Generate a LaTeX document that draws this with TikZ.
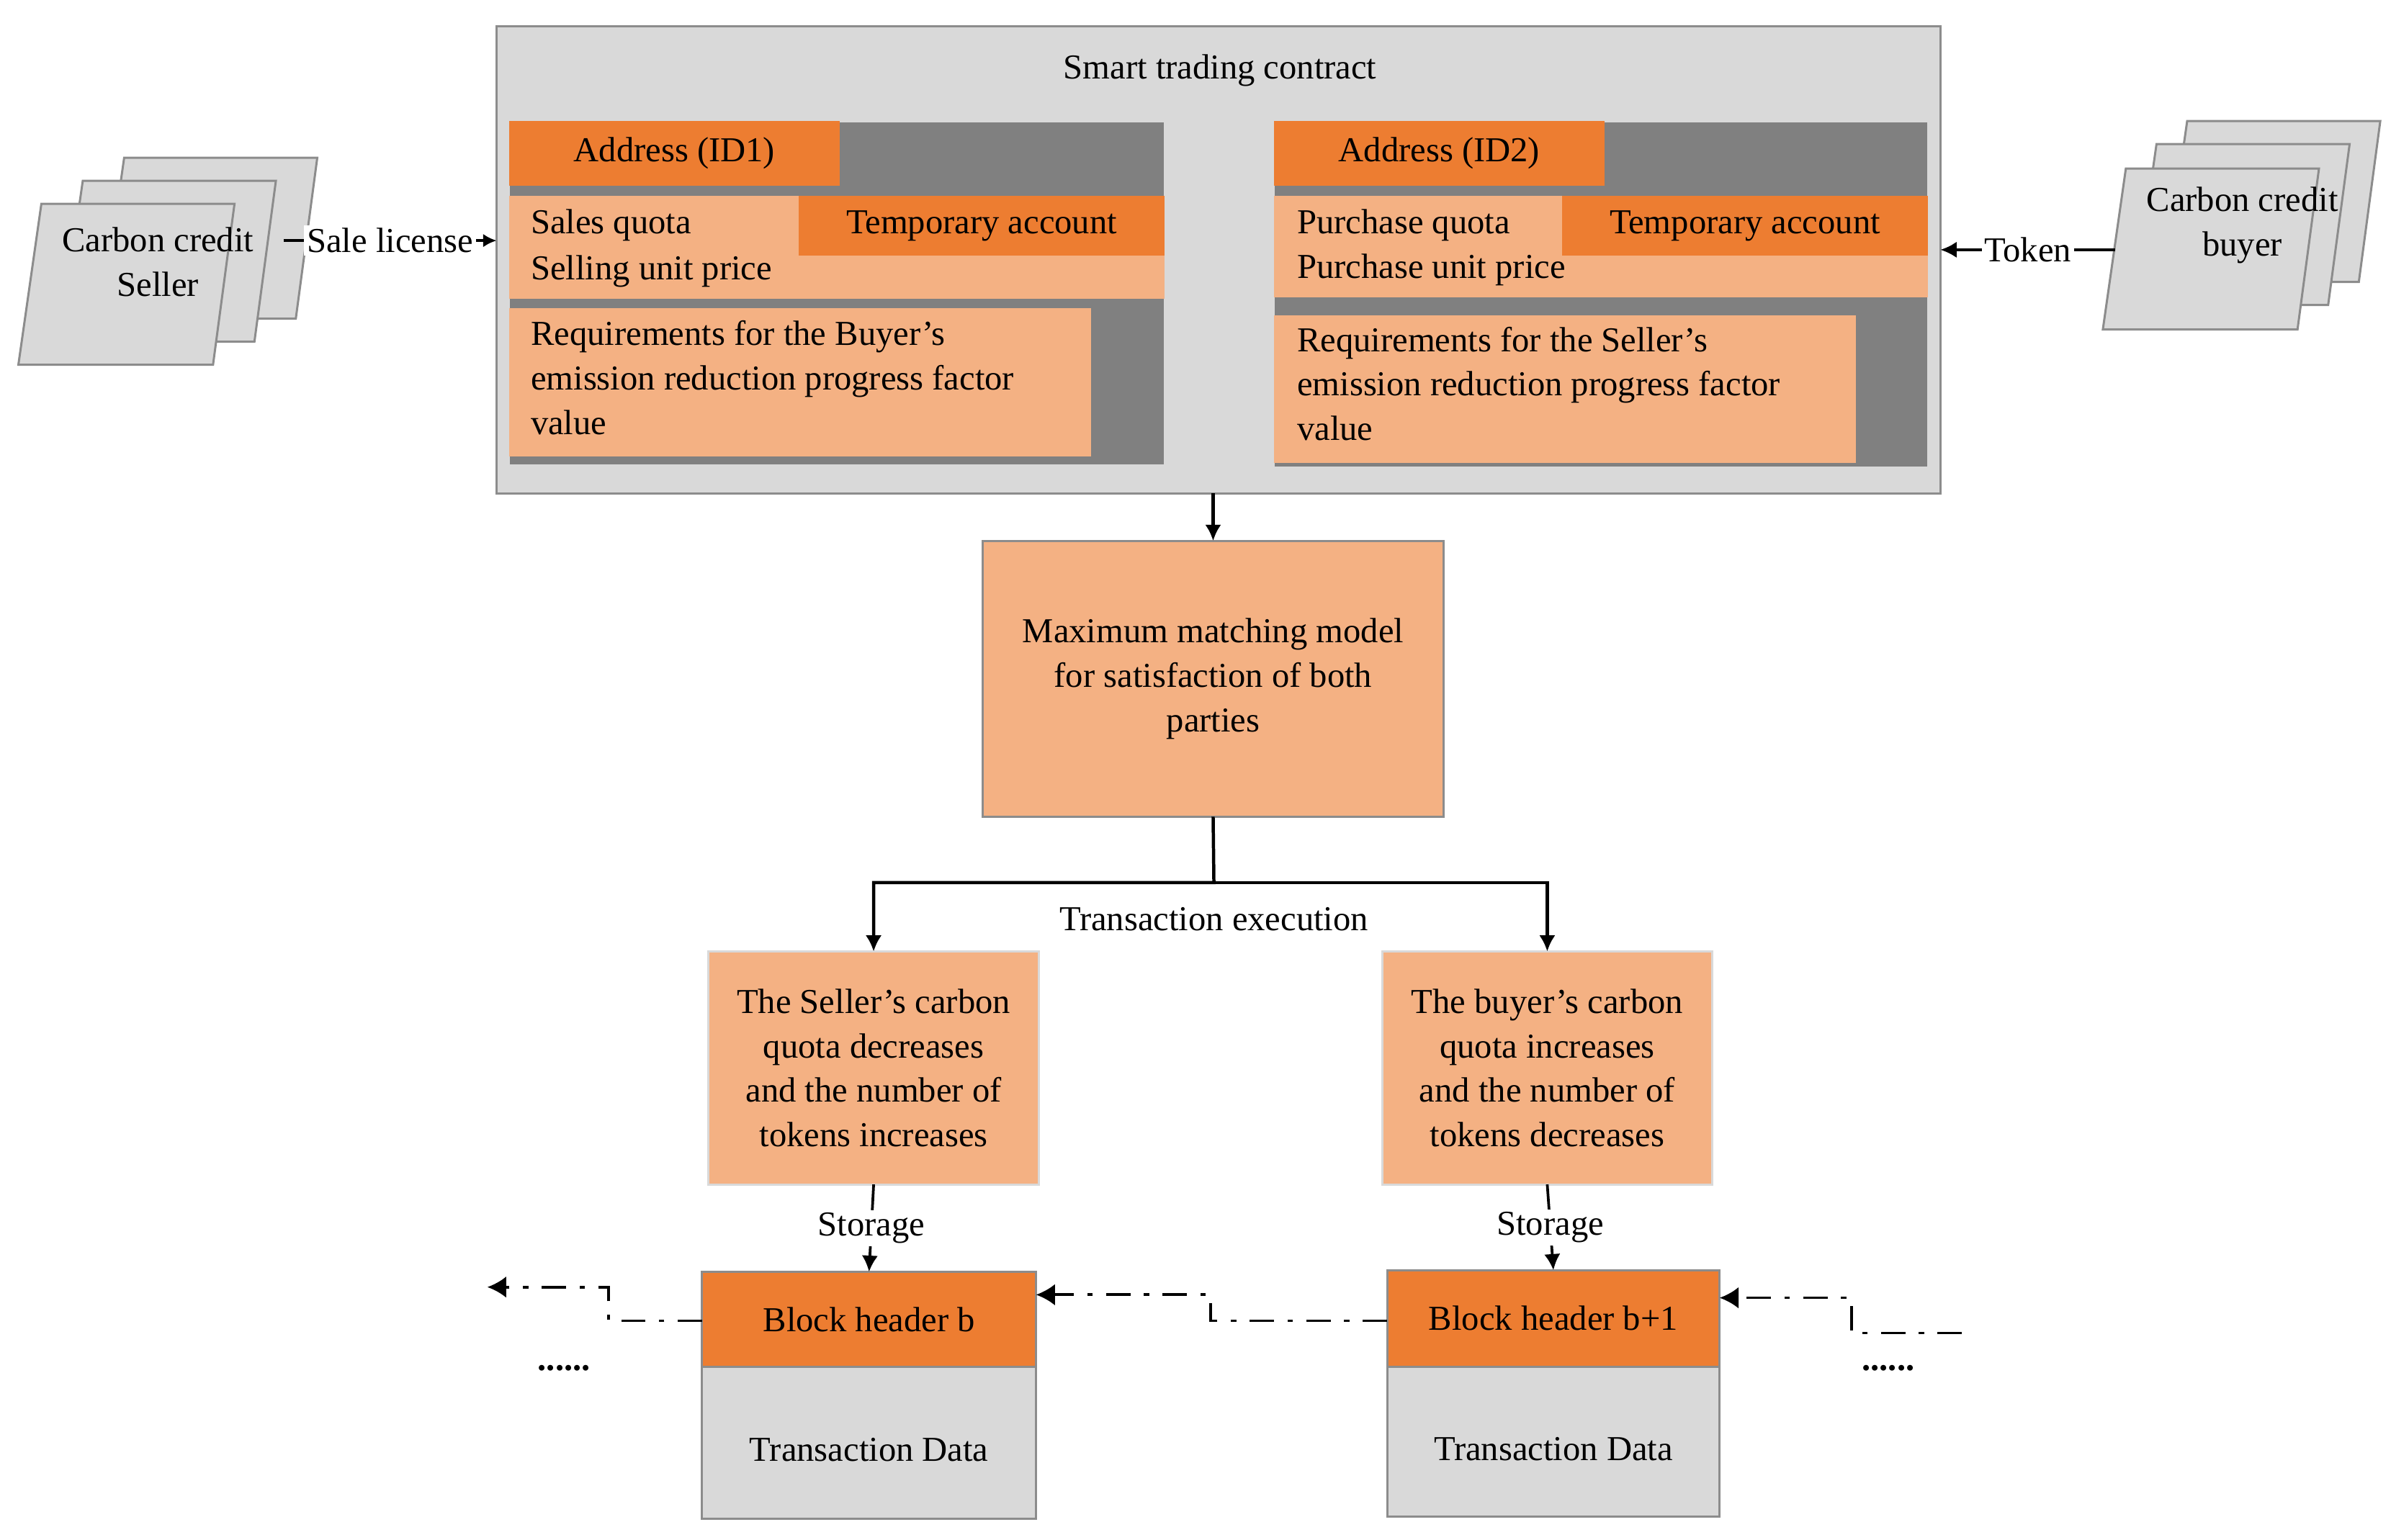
\documentclass[tikz,border=0pt]{standalone}
\usepackage{fontspec}
\setmainfont{Liberation Serif}
\usetikzlibrary{arrows.meta}
\definecolor{dor}{HTML}{ED7D31}
\definecolor{lor}{HTML}{F4B183}
\definecolor{lg}{HTML}{D9D9D9}
\definecolor{dg}{HTML}{808080}
\definecolor{bd}{HTML}{8C8C8C}
\newcommand\bx[7]{\node[#6, minimum width={(#4-#2)*0.02cm}, minimum height={(#5-#3)*0.02cm}] (#1) at ({(#2+#4)/2},{(#3+#5)/2}) {#7};}
\begin{document}
\begin{tikzpicture}[x=0.02cm,y=-0.02cm,font=\fontsize{13}{16.5}\selectfont,
  b/.style={inner sep=0pt,outer sep=0pt,align=center},
  gbox/.style={b,fill=lg,draw=bd,line width=0.8pt},
  dbox/.style={b,fill=dg,draw=lg,line width=0.8pt},
  obox/.style={b,fill=dor},
  lbox/.style={b,fill=lor},
  lboxd/.style={b,fill=lor,draw=bd,line width=0.8pt},
  lboxl/.style={b,fill=lor,draw=lg,line width=0.8pt},
  t/.style={inner sep=0pt,anchor=west,align=left},
  arr/.style={-{Latex[length=6pt,width=6pt]},line width=1.2pt},
  dd/.style={-{Latex[length=7pt,width=8pt]},line width=1pt,dash pattern=on 9pt off 5pt on 2pt off 5pt},
  lab/.style={fill=white,inner sep=1pt},
  para/.style={fill=lg,draw=bd,line width=0.8pt}]
\useasboundingbox (0,0) rectangle (1560,1005);
% outer contract
\bx{contract}{324}{17}{1266}{322}{gbox}{}
\node (title) at (796,46) {Smart trading contract};
% left
\bx{L}{332}{79}{760}{304}{dbox}{}
\bx{La}{332}{79}{548}{121}{obox}{Address (ID1)}
\bx{Lr}{332}{128}{760}{195}{lbox}{}
\bx{Lt}{521}{128}{760}{167}{obox}{Temporary account}
\node[t] (Lq) at (346,147) {Sales quota};
\node[t] (Lp) at (346,177) {Selling unit price};
\bx{Lreq}{332}{201}{712}{298}{lbox}{}
\node[t,anchor=north west] (Lrt) at (346,209) {Requirements for the Buyer's\\emission reduction progress factor\\value};
% right
\bx{R}{831}{79}{1258}{305}{dbox}{}
\bx{Ra}{831}{79}{1047}{121}{obox}{Address (ID2)}
\bx{Rr}{831}{128}{1258}{194}{lbox}{}
\bx{Rt}{1019}{128}{1258}{167}{obox}{Temporary account}
\node[t] (Rq) at (846,147) {Purchase quota};
\node[t] (Rp) at (846,176) {Purchase unit price};
\bx{Rreq}{831}{206}{1211}{302}{lbox}{}
\node[t,anchor=north west] (Rrt) at (846,213) {Requirements for the Seller's\\emission reduction progress factor\\value};
% seller stack
\foreach \dx/\dy in {54/-30,27/-15,0/0}
  \draw[para] ({12+\dx},{238+\dy}) -- ({27+\dx},{133+\dy}) -- ({153+\dx},{133+\dy}) -- ({139+\dx},{238+\dy}) -- cycle;
\node[align=center] (seller) at (103,171) {Carbon credit\\Seller};
% buyer stack
\foreach \dx/\dy in {40/-31,20/-16,0/0}
  \draw[para] ({1372+\dx},{215+\dy}) -- ({1387+\dx},{110+\dy}) -- ({1513+\dx},{110+\dy}) -- ({1499+\dx},{215+\dy}) -- cycle;
\node[align=center] (buyer) at (1463,147) {Carbon credit\\buyer};
\coordinate (sA) at (185,157);
\coordinate (bA) at (1380,163);
\draw[-{Latex[length=5pt,width=5pt]},line width=1pt] (sA) -- (contract.west|-sA) node[midway,lab] {Sale license};
\draw[-{Latex[length=6pt,width=6pt]},line width=1pt] (bA) -- (contract.east|-bA) node[midway,lab] {Token};
% matching
\bx{match}{641}{353}{942}{533}{lboxd}{Maximum matching model\\for satisfaction of both\\parties}
\draw[arr] (contract.south-|match) -- (match.north);
\bx{sbox}{462}{621}{678}{773}{lboxl}{The Seller's carbon\\quota decreases\\and the number of\\tokens increases}
\bx{bbox}{902}{621}{1117}{773}{lboxl}{The buyer's carbon\\quota increases\\and the number of\\tokens decreases}
\draw[arr] (match.south) -- (792,576) -| (sbox.north);
\draw[arr] (792,576) -| (bbox.north);
\node (te) at (792,600) {Transaction execution};
% blocks
\bx{hb}{458}{830}{676}{892}{obox}{Block header b}
\bx{db}{458}{892}{676}{991}{gbox}{\raisebox{-14pt}{Transaction Data}}
\draw[bd,line width=0.8pt] (hb.north west) rectangle (db.south east);
\bx{hb1}{905}{829}{1122}{892}{obox}{Block header b+1}
\bx{db1}{905}{892}{1122}{990}{gbox}{\raisebox{-14pt}{Transaction Data}}
\draw[bd,line width=0.8pt] (hb1.north west) rectangle (db1.south east);
\draw[-{Latex[length=6pt,width=6pt]},line width=1pt] (sbox.south) -- (hb.north) node[midway,lab] {Storage};
\draw[-{Latex[length=6pt,width=6pt]},line width=1pt] (bbox.south) -- (hb1.north) node[midway,lab] {Storage};
\coordinate (lend) at (318,840);
\coordinate (rstart) at (1280,870);
\draw[dd] (hb1.west|-0,862) -- (790,862) -- (790,845) -- (hb.east|-0,845);
\draw[dd] (hb.west|-0,862) -- (397,862) -- (397,840) -- (lend);
\draw[dd] (rstart) -- (1208,870) -- (1208,847) -- (hb1.east|-0,847);
\node (dl) at (368,893) {\textbf{......}};
\node (dr) at (1232,893) {\textbf{......}};
\end{tikzpicture}
\end{document}
